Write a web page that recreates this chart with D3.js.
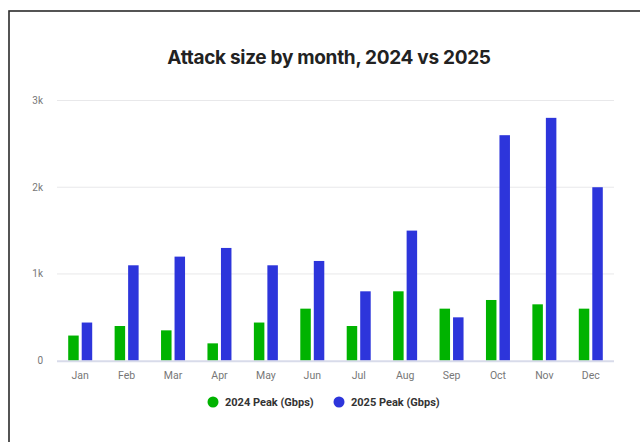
<!DOCTYPE html>
<html>
<head>
<meta charset="utf-8">
<script src="https://cdn.jsdelivr.net/npm/d3@7"></script>
<style>
  html, body { margin: 0; padding: 0; background: #fff; }
  svg { display: block; }
</style>
</head>
<body>
<svg id="chart" width="640" height="442"></svg>
<script>
// Monthly peak attack sizes (Gbps)
const months = ["Jan","Feb","Mar","Apr","May","Jun","Jul","Aug","Sep","Oct","Nov","Dec"];
const peak2024 = [290, 400, 350, 200, 440, 600, 400, 800, 600, 700, 650, 600];
const peak2025 = [440, 1100, 1200, 1300, 1100, 1150, 800, 1500, 500, 2600, 2800, 2000];
const seriesNames = ["2024 Peak (Gbps)", "2025 Peak (Gbps)"];
const seriesColors = ["#00b300", "#2d35db"];
const yTicks = [0, 1000, 2000, 3000];
const yTickLabels = ["0", "1k", "2k", "3k"];

const svg = d3.select("#chart");
const titleFont = "Inter, 'Noto Sans', sans-serif";
const font = "Roboto, 'Noto Sans', sans-serif";

// Outer frame
svg.append("rect")
  .attr("x", 9).attr("y", 11)
  .attr("width", 700).attr("height", 500)
  .attr("fill", "none")
  .attr("stroke", "#2b2b2b")
  .attr("stroke-width", 1.6);

// Title
svg.append("text")
  .attr("x", 329).attr("y", 64)
  .attr("text-anchor", "middle")
  .attr("font-family", titleFont)
  .attr("font-weight", 700)
  .attr("font-size", 19)
  .attr("letter-spacing", -0.3)
  .attr("fill", "#222")
  .text("Attack size by month, 2024 vs 2025");

const plot = { left: 57, right: 614, top: 100.5, bottom: 360.7 };

const x = d3.scaleBand().domain(months).range([plot.left, plot.right]).padding(0);
const y = d3.scaleLinear().domain([0, 3000]).range([plot.bottom, plot.top]);

// Gridlines
svg.append("g").selectAll("line")
  .data(yTicks.filter(d => d > 0))
  .join("line")
  .attr("x1", plot.left).attr("x2", plot.right)
  .attr("y1", d => y(d)).attr("y2", d => y(d))
  .attr("stroke", "#e8e8ea").attr("stroke-width", 1);

// Y tick labels
svg.append("g").selectAll("text")
  .data(yTicks)
  .join("text")
  .attr("x", 43)
  .attr("y", d => y(d) + 3.5)
  .attr("text-anchor", "end")
  .attr("font-family", font)
  .attr("font-size", 10)
  .attr("fill", "#777")
  .text((d, i) => yTickLabels[i]);

// Bars
const barW = 10.5, gap = 3;
const groups = svg.append("g").selectAll("g")
  .data(months)
  .join("g")
  .attr("transform", d => `translate(${x(d) + x.bandwidth() / 2},0)`);

[peak2024, peak2025].forEach((vals, s) => {
  groups.append("rect")
    .attr("x", s === 0 ? -(barW + gap / 2) : gap / 2)
    .attr("width", barW)
    .attr("y", (d, i) => y(vals[i]))
    .attr("height", (d, i) => y(0) - y(vals[i]))
    .attr("fill", seriesColors[s]);
});

// Baseline
svg.append("line")
  .attr("x1", plot.left).attr("x2", plot.right)
  .attr("y1", y(0) + 0.5).attr("y2", y(0) + 0.5)
  .attr("stroke", "#d8dbea").attr("stroke-width", 2);

// X labels
svg.append("g").selectAll("text")
  .data(months)
  .join("text")
  .attr("x", d => x(d) + x.bandwidth() / 2)
  .attr("y", 379)
  .attr("text-anchor", "middle")
  .attr("font-family", font)
  .attr("font-size", 10.5)
  .attr("fill", "#777")
  .text(d => d);

// Legend
const legendX = [213, 339];
const legend = svg.append("g").selectAll("g")
  .data(seriesNames)
  .join("g")
  .attr("transform", (d, i) => `translate(${legendX[i]},402)`);
legend.append("circle").attr("r", 5.5).attr("fill", (d, i) => seriesColors[i]);
legend.append("text")
  .attr("x", 12).attr("y", 4)
  .attr("font-family", font)
  .attr("font-weight", 700)
  .attr("font-size", 11)
  .attr("fill", "#333")
  .text(d => d);
</script>
</body>
</html>
